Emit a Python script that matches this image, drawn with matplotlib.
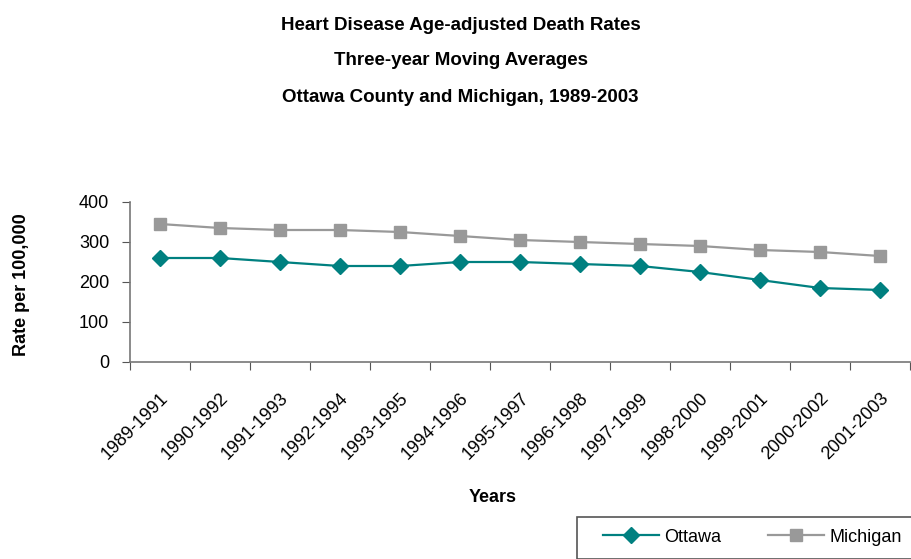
import matplotlib
matplotlib.use('Agg')
import matplotlib.pyplot as plt
from matplotlib.patches import Rectangle

plt.rcParams['font.family'] = ['Liberation Sans Narrow', 'Liberation Sans', 'DejaVu Sans']

periods = ['1989-1991', '1990-1992', '1991-1993', '1992-1994', '1993-1995', '1994-1996',
           '1995-1997', '1996-1998', '1997-1999', '1998-2000', '1999-2001', '2000-2002',
           '2001-2003']
ottawa = [260, 260, 250, 240, 240, 250, 250, 245, 240, 225, 205, 185, 180]
michigan = [345, 335, 330, 330, 325, 315, 305, 300, 295, 290, 280, 275, 265]

teal = '#008080'
grey = '#999999'

fig = plt.figure(figsize=(9.12, 5.59), dpi=100)
ax = fig.add_axes([130/912, 1-362/559, 780/912, 160/559])

x = list(range(len(periods)))
ax.plot(x, ottawa, color=teal, marker='D', markersize=8, linewidth=1.6, label='Ottawa')
ax.plot(x, michigan, color=grey, marker='s', markersize=8, linewidth=1.6, label='Michigan')

ax.set_xlim(-0.5, len(periods) - 0.5)
ax.set_ylim(0, 400)
ax.set_yticks([0, 100, 200, 300, 400])
# boundary ticks between categories, labels centred on categories
ax.set_xticks([i + 0.5 for i in range(-1, len(periods))])
ax.set_xticklabels([])
ax.set_xticks(x, minor=True)
ax.set_xticklabels(periods, minor=True, rotation=45, ha='right', rotation_mode='anchor', fontsize=13)
ax.tick_params(axis='x', which='minor', length=0, pad=20)
ax.tick_params(axis='x', which='major', direction='out', length=6, color='#555555')
ax.tick_params(axis='y', direction='out', length=6, color='#555555', labelsize=13, pad=9)

for s in ['top', 'right']:
    ax.spines[s].set_visible(False)
for s in ['left', 'bottom']:
    ax.spines[s].set_color('#777777')
    ax.spines[s].set_linewidth(1.2)

fig.text(493/912, 1-497/559, 'Years', ha='center', va='center', fontsize=13, fontweight='bold')
fig.text(22/912, 1-285/559, 'Rate per 100,000', ha='center', va='center', rotation=90,
         fontsize=13, fontweight='bold')

fig.text(0.505, 1-25/559, 'Heart Disease Age-adjusted Death Rates', ha='center', va='center',
         fontsize=13.5, fontweight='bold')
fig.text(0.505, 1-61/559, 'Three-year Moving Averages', ha='center', va='center',
         fontsize=13.5, fontweight='bold')
fig.text(0.505, 1-97/559, 'Ottawa County and Michigan, 1989-2003', ha='center', va='center',
         fontsize=13.5, fontweight='bold')

fig.patches.append(Rectangle((577/912, 0), 1, 1-517/559, transform=fig.transFigure,
                             fill=False, edgecolor='#555555', linewidth=1.2))
leg = fig.legend(loc='center left', bbox_to_anchor=(603/912, 1-537/559), ncol=2, frameon=False,
                 fontsize=13, handlelength=3.1, columnspacing=2.6, handletextpad=0.3,
                 borderaxespad=0, borderpad=0)

fig.savefig('out.png', dpi=100)
